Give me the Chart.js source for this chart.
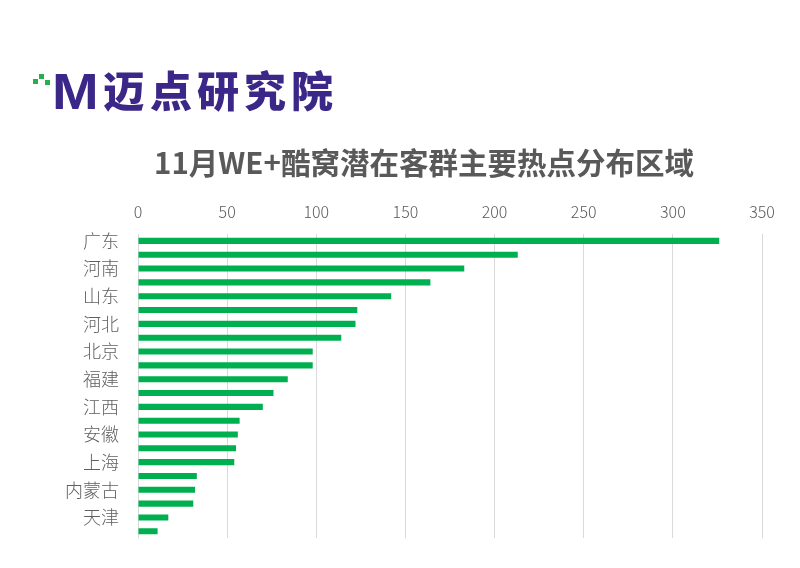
<!DOCTYPE html>
<html>
<head>
<meta charset="utf-8">
<script src="https://cdn.jsdelivr.net/npm/chart.js@4/dist/chart.umd.min.js"></script>
<style>
  html, body { margin: 0; padding: 0; background: #ffffff; }
  #wrap { position: relative; width: 800px; height: 568px; overflow: hidden; }
  #logo { position: absolute; left: 30px; top: 64px; height: 50px; white-space: nowrap; }
  #logo .sq { position: absolute; background: #22b14c; }
  #logo .pq { position: absolute; background: #3b2787; }
  #logo .m { position: absolute; left: 22px; top: 3px; font-family: "Liberation Sans", Arial, sans-serif; font-weight: 700; font-size: 50px; line-height: 50px; color: #3b2787; transform: scaleX(1.12); transform-origin: left center; }
  #logo .cn { position: absolute; left: 73px; top: 0px; font-family: "Noto Sans CJK SC", sans-serif; font-weight: 900; font-size: 42px; line-height: 50px; color: #3b2787; letter-spacing: 5px; }
  #title { position: absolute; left: 124px; width: 600px; top: 141px; text-align: center; font-family: "Noto Sans CJK SC", sans-serif; font-weight: 700; font-size: 29.5px; line-height: 40px; color: #595959; white-space: nowrap; }
  canvas { position: absolute; left: 0; top: 0; }
</style>
</head>
<body>
<div id="wrap">
  <canvas id="c" width="800" height="568"></canvas>
  <div id="logo">
    <span class="sq" style="left:3px;top:15px;width:5px;height:5px;"></span>
    <span class="sq" style="left:9px;top:10px;width:5px;height:5px;"></span>
    <span class="sq" style="left:15px;top:16px;width:5px;height:5px;"></span>
    <span class="m">M</span>
    <span class="cn">迈点研究院</span>
  </div>
  <div id="title"></div>
</div>
<script>
const titleText = "11月WE+酷窝潜在客群主要热点分布区域";
const categories = ["广东", "浙江", "河南", "江苏", "山东", "四川", "河北", "湖北", "北京", "湖南",
                    "福建", "辽宁", "江西", "陕西", "安徽", "重庆", "上海", "黑龙江", "内蒙古", "吉林",
                    "天津", "海南"];
const values = [326, 213, 183, 164, 142, 123, 122, 114, 98, 98,
                84, 76, 70, 57, 56, 55, 54, 33, 32, 31,
                17, 11];
const xTicks = [0, 50, 100, 150, 200, 250, 300, 350];

document.getElementById('title').textContent = titleText;

const ctx = document.getElementById('c').getContext('2d');
new Chart(ctx, {
  type: 'bar',
  data: {
    labels: categories,
    datasets: [{
      data: values,
      backgroundColor: '#00b050',
      borderWidth: 0,
      categoryPercentage: 1.0,
      barPercentage: 0.44
    }]
  },
  options: {
    indexAxis: 'y',
    responsive: false,
    animation: false,
    events: [],
    layout: { padding: { left: 0, right: 38, top: 176, bottom: 23 } },
    plugins: {
      legend: { display: false },
      tooltip: { enabled: false },
      title: { display: false }
    },
    scales: {
      x: {
        position: 'top',
        min: 0,
        max: 350,
        afterBuildTicks: (s) => { s.ticks = xTicks.map(v => ({ value: v })); },
        afterFit: (s) => { s.height = 58; },
        grid: { color: '#d9d9d9', lineWidth: 1, drawTicks: false },
        border: { display: false },
        ticks: {
          padding: 12,
          color: '#595959',
          font: { family: '"Noto Sans CJK SC", "DejaVu Sans", sans-serif', size: 16, weight: 300 }
        }
      },
      y: {
        afterFit: (s) => { s.width = 138; },
        grid: { display: false, drawTicks: false },
        border: { display: false },
        ticks: {
          autoSkip: false,
          padding: 19,
          color: '#606060',
          font: { family: '"Noto Sans CJK SC", sans-serif', size: 18, weight: 300 },
          callback: function (val, i) { return i % 2 === 0 ? this.getLabelForValue(val) : ''; }
        }
      }
    }
  }
});
</script>
</body>
</html>
